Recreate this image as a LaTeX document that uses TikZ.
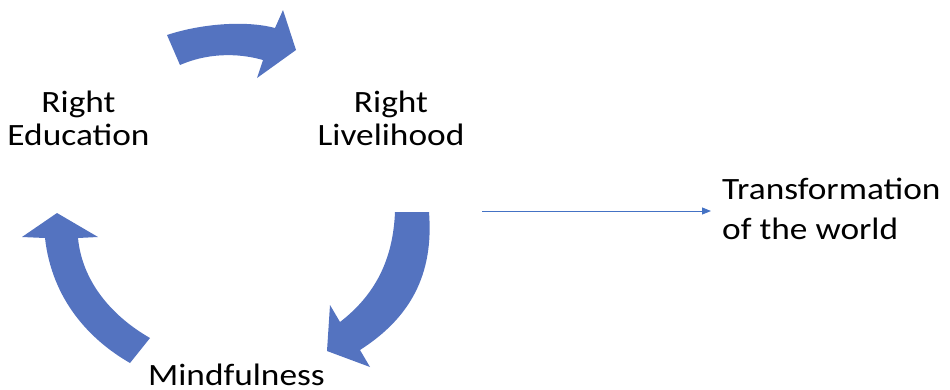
\documentclass[tikz,border=0pt]{standalone}
\usepackage{fontspec}
\setmainfont{Carlito}[FakeStretch=1.14]
\usetikzlibrary{arrows.meta}
\definecolor{blockblue}{RGB}{84,115,192}
\definecolor{lineblue}{RGB}{68,114,196}
\tikzset{
  blockarrow/.style={fill=blockblue, draw=none},
  label/.style={inner sep=0pt, align=center, text=black, font=\fontsize{31}{33}\selectfont},
  thin/.style={draw=lineblue, line width=0.9pt, -{Triangle[length=9pt,width=7pt]}}
}
\begin{document}
\begin{tikzpicture}[x=1pt,y=-1pt]
\useasboundingbox (0,0) rectangle (950,389);
% top arrow
\path[blockarrow] (167,35) .. controls (200,24) and (245,20) .. (275,28)
  -- (283,10) -- (296,50) -- (257,78) -- (263,60)
  .. controls (235,52) and (205,54) .. (180,65) -- cycle;
% right arrow
\path[blockarrow] (395,212) -- (429,212)
  .. controls (434,275) and (410,318) .. (360,350)
  -- (370,367) -- (327,351) -- (330,305) -- (340,322)
  .. controls (375,295) and (393,260) .. (395,212) -- cycle;
% left arrow
\path[blockarrow] (150,338) -- (130,363)
  .. controls (90,340) and (52,300) .. (45,238)
  -- (22,237) -- (57,213) -- (98,237) -- (78,238)
  .. controls (82,280) and (110,315) .. (150,338) -- cycle;
% labels
\node[label, anchor=base] (edu) at (78.5,145) {Right\\Education};
\node[label, anchor=base] (live) at (391,145) {Right\\Livelihood};
\node[label, anchor=base] (mind) at (236.5,385.5) {Mindfulness};
\node[label, align=left, anchor=base west, font=\fontsize{31}{40}\selectfont] (trans) at (722,239) {Transformation\\of the world};
\coordinate (start) at (482,211);
\draw[thin] (start) -- ([xshift=-11pt]start -| trans.west);
\end{tikzpicture}
\end{document}
